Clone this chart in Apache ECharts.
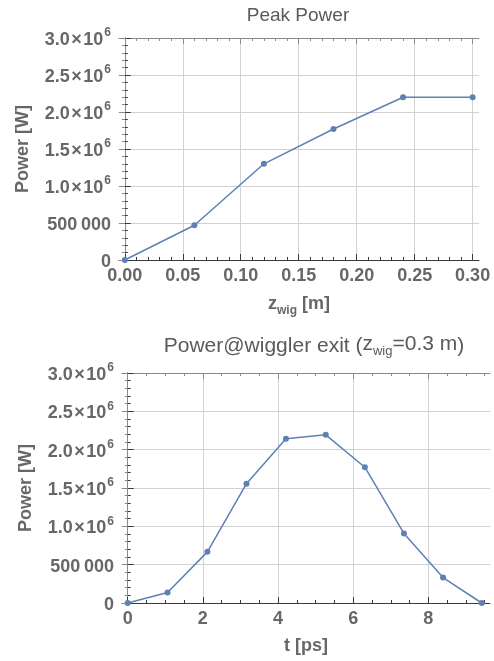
<!DOCTYPE html>
<html>
<head>
<meta charset="utf-8">
<script src="https://cdn.jsdelivr.net/npm/echarts@6/dist/echarts.min.js"></script>
<style>
html,body{margin:0;padding:0;background:#fff;}
#c{width:494px;height:661px;}
</style>
</head>
<body>
<div id="c"></div>
<script>
// ---- data ----
var zwig = [0, 0.06, 0.12, 0.18, 0.24, 0.30];
var peakPower = [0, 470000, 1300000, 1770000, 2200000, 2200000];
var tps = [0, 1.06, 2.12, 3.16, 4.21, 5.27, 6.31, 7.35, 8.39, 9.42];
var exitPower = [0, 136000, 667000, 1556000, 2141000, 2193000, 1771000, 907000, 332000, 0];
var zTicks = [0, 0.05, 0.10, 0.15, 0.20, 0.25, 0.30];
var tTicks = [0, 2, 4, 6, 8];

// ---- styling helpers ----
var FONT = '"Liberation Sans", Arial, sans-serif';
var LBL = '#676767';
var TTL = '#5a5a5a';
var DARK = '#3a3a3a';
var LIGHT = '#8a8a8a';
var GRIDC = '#d2d2d2';
var LINEC = '#5e81b5';

function minorList(lo, hi, step) {
  var out = [];
  for (var v = lo; v <= hi + 1e-9; v += step) out.push(+v.toFixed(6));
  return out;
}

function powerLabel(v) {
  if (v === 0) return '{m|0}';
  if (v === 500000) return '{m|500\u2009000}';
  return '{m|' + (v / 1e6).toFixed(1) + '\u200a\u00d7\u200a10}{s|6}';
}

var yRich = {
  m: {fontSize: 18, fontWeight: 'bold', color: LBL, fontFamily: FONT, lineHeight: 22, verticalAlign: 'bottom'},
  s: {fontSize: 12, fontWeight: 'bold', color: LBL, fontFamily: FONT, lineHeight: 12, verticalAlign: 'top', padding: [0, 0, 0, 1]}
};
var nameRich = {
  b: {fontSize: 18, fontWeight: 'bold', color: LBL, fontFamily: FONT, lineHeight: 22, verticalAlign: 'top'},
  sub: {fontSize: 12, fontWeight: 'bold', color: LBL, fontFamily: FONT, lineHeight: 12, verticalAlign: 'bottom'}
};

function xAxes(gi, min, max, ticks, minor, fmt, name, nameGap) {
  var common = {type: 'value', gridIndex: gi, min: min, max: max};
  return [
    Object.assign({}, common, {
      position: 'bottom',
      name: name, nameLocation: 'middle', nameGap: nameGap,
      nameTextStyle: {rich: nameRich, fontSize: 18, fontWeight: 'bold', color: LBL, fontFamily: FONT},
      axisLine: {show: true, lineStyle: {color: DARK, width: 1}},
      axisTick: {show: true, inside: true, length: 6, customValues: ticks, lineStyle: {color: DARK}},
      axisLabel: {show: true, customValues: ticks, margin: 7, formatter: fmt,
        fontSize: 18, fontWeight: 'bold', color: LBL, fontFamily: FONT},
      splitLine: {show: true, lineStyle: {color: GRIDC, width: 1}}
    }),
    Object.assign({}, common, {
      position: 'bottom',
      axisLine: {show: false},
      axisTick: {show: true, inside: true, length: 3, customValues: minor, lineStyle: {color: DARK}},
      axisLabel: {show: false},
      splitLine: {show: false}
    }),
    Object.assign({}, common, {
      position: 'top',
      axisLine: {show: true, lineStyle: {color: LIGHT, width: 1}},
      axisTick: {show: true, inside: true, length: 6, customValues: ticks, lineStyle: {color: LIGHT}},
      axisLabel: {show: false},
      splitLine: {show: false}
    }),
    Object.assign({}, common, {
      position: 'top',
      axisLine: {show: false},
      axisTick: {show: true, inside: true, length: 3, customValues: minor, lineStyle: {color: LIGHT}},
      axisLabel: {show: false},
      splitLine: {show: false}
    })
  ];
}

function yAxes(gi) {
  var common = {type: 'value', gridIndex: gi, min: 0, max: 3000000, interval: 500000};
  return [
    Object.assign({}, common, {
      position: 'left',
      name: 'Power [W]', nameLocation: 'middle', nameGap: 87,
      nameTextStyle: {fontSize: 18, fontWeight: 'bold', color: LBL, fontFamily: FONT},
      axisLine: {show: true, lineStyle: {color: DARK, width: 1}},
      axisTick: {show: true, inside: true, length: 6, lineStyle: {color: DARK}},
      minorTick: {show: true, splitNumber: 5, length: 3, lineStyle: {color: DARK}},
      axisLabel: {show: true, margin: 8, formatter: powerLabel, rich: yRich},
      splitLine: {show: true, lineStyle: {color: GRIDC, width: 1}}
    }),
    Object.assign({}, common, {
      position: 'right',
      axisLine: {show: true, lineStyle: {color: LIGHT, width: 1}},
      axisTick: {show: true, inside: true, length: 6, lineStyle: {color: LIGHT}},
      minorTick: {show: true, splitNumber: 5, length: 3, lineStyle: {color: LIGHT}},
      axisLabel: {show: false},
      splitLine: {show: false}
    })
  ];
}

var chart = echarts.init(document.getElementById('c'), null, {renderer: 'canvas'});

var xs = [].concat(
  xAxes(0, -0.005, 0.3055, zTicks, minorList(0, 0.30, 0.01),
        function (v) { return v.toFixed(2); }, '{b|z}{sub|wig}{b| [m]}', 35),
  xAxes(1, -0.152, 9.64, tTicks, minorList(0, 9.5, 0.5),
        function (v) { return String(v); }, 't [ps]', 34)
);
var ys = [].concat(yAxes(0), yAxes(1));

function toPairs(xv, yv) { return xv.map(function (x, i) { return [x, yv[i]]; }); }

var option = {
  animation: false,
  backgroundColor: '#fff',
  title: [
    {text: 'Peak Power', left: 293, top: 1, textAlign: 'center',
     textStyle: {fontSize: 19, fontWeight: 'normal', color: TTL, fontFamily: FONT}},
    {text: 'Power@wiggler exit ({n|z}{sub|wig}{n|=0.3 m})', left: 309, top: 329, textAlign: 'center',
     textStyle: {fontSize: 21, fontWeight: 'normal', color: TTL, fontFamily: FONT,
       rich: {
         n: {fontSize: 21, color: TTL, fontFamily: FONT, lineHeight: 24, verticalAlign: 'top'},
         sub: {fontSize: 13, color: TTL, fontFamily: FONT, lineHeight: 13, verticalAlign: 'bottom'}
       }}}
  ],
  grid: [
    {left: 119, top: 38, width: 360, height: 222, containLabel: false},
    {left: 122, top: 373, width: 368, height: 230, containLabel: false}
  ],
  xAxis: xs,
  yAxis: ys,
  series: [
    {type: 'line', xAxisIndex: 0, yAxisIndex: 0, data: toPairs(zwig, peakPower),
     symbol: 'circle', symbolSize: 6, showSymbol: true,
     lineStyle: {color: LINEC, width: 1.5}, itemStyle: {color: LINEC}},
    {type: 'line', xAxisIndex: 4, yAxisIndex: 2, data: toPairs(tps, exitPower),
     symbol: 'circle', symbolSize: 6, showSymbol: true,
     lineStyle: {color: LINEC, width: 1.5}, itemStyle: {color: LINEC}}
  ]
};
chart.setOption(option);
</script>
</body>
</html>
